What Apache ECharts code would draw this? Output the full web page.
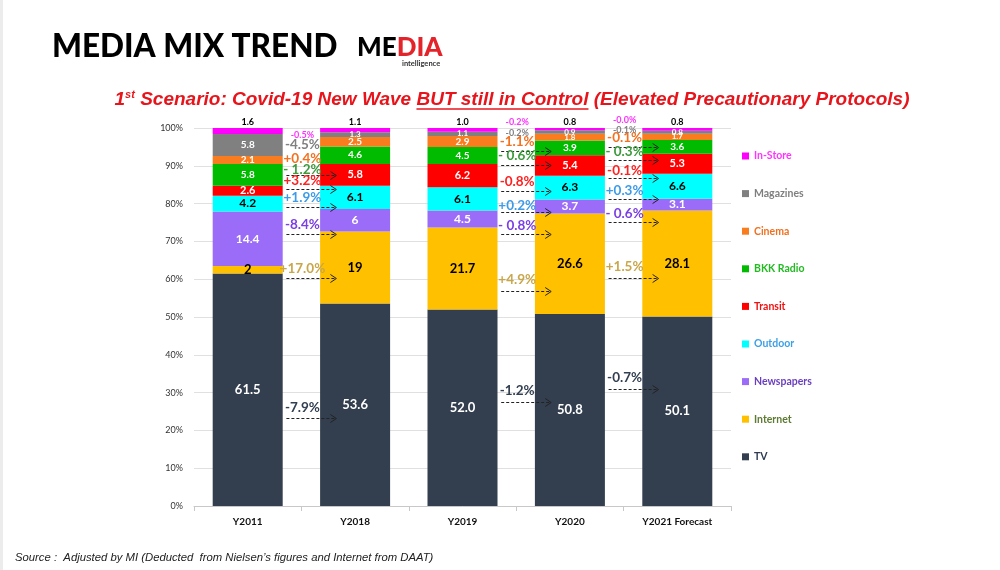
<!DOCTYPE html>
<html>
<head>
<meta charset="utf-8">
<title>Media Mix Trend</title>
<script src="https://cdn.jsdelivr.net/npm/echarts@6/dist/echarts.min.js"></script>
<style>
  html, body { margin: 0; padding: 0; background: #fff; }
  #chart { width: 1000px; height: 570px; }
</style>
</head>
<body>
<div id="chart"></div>
<script>
const categories = ['Y2011', 'Y2018', 'Y2019', 'Y2020', 'Y2021 Forecast']
const mediaNames = ['TV', 'Internet', 'Newspapers', 'Outdoor', 'Transit', 'BKK Radio', 'Cinema', 'Magazines', 'In-Store']

// share of spend (%), per media
const tv = [61.5, 53.6, 52.0, 50.8, 50.1]
const internet = [2, 19, 21.7, 26.6, 28.1]
const newspapers = [14.4, 6, 4.5, 3.7, 3.1]
const outdoor = [4.2, 6.1, 6.1, 6.3, 6.6]
const transit = [2.6, 5.8, 6.2, 5.4, 5.3]
const bkkRadio = [5.8, 4.6, 4.5, 3.9, 3.6]
const cinema = [2.1, 2.5, 2.9, 1.8, 1.7]
const magazines = [5.8, 1.3, 1.1, 0.9, 0.8]
const inStore = [1.6, 1.1, 1.0, 0.8, 0.8]

// change labels (TV .. In-Store) shown in the gap after bar index in changeGaps
const changeGaps = [0, 2, 3]
const changes2018 = ['-7.9%', '+17.0%', '-8.4%', '+1.9%', '+3.2%', '- 1.2%', '+0.4%', '-4.5%', '-0.5%']
const changes2020 = ['-1.2%', '+4.9%', '- 0.8%', '+0.2%', '-0.8%', '- 0.6%', '-1.1%', '-0.2%', '-0.2%']
const changes2021 = ['-0.7%', '+1.5%', '- 0.6%', '+0.3%', '-0.1%', '- 0.3%', '-0.1%', '-0.1%', '-0.0%']

// layout of the annotations, in % on the value axis
const changeTextAt = [
  [26.0, 62.7, 74.5, 81.7, 86.1, 89.0, 91.9, 95.6, 98.0],
  [30.4, 59.8, 74.1, 79.5, 85.7, 92.7, 96.3, 98.7, 101.6],
  [34.0, 63.3, 77.3, 83.3, 88.8, 93.7, 97.4, 99.5, 102.1]
]
const arrowAt = [
  [23.3, 60.3, 72.0, 79.1, 83.9, 87.6],
  [27.4, 57.0, 71.9, 77.7, 83.4, 90.3, 94.0],
  [30.9, 60.4, 75.2, 81.2, 86.8, 91.6, 94.9]
]

const seriesValues = [tv, internet, newspapers, outdoor, transit, bkkRadio, cinema, magazines, inStore]
const changeTexts = [changes2018, changes2020, changes2021]

const barColors = ['#333f4f', '#ffc000', '#9b6cf7', '#00ffff', '#ff0000', '#00bb00', '#f97c1f', '#808080', '#ff00ff']
const barLabelColors = ['#fff', '#000', '#fff', '#000', '#fff', '#fff', '#fff', '#fff', '#000']
const barLabelSizes = [13, 13, 12, 12, 11, 10, 10, 10, 9]
const changeColors = ['#333f50', '#c9a64a', '#7b3fe4', '#3d9be9', '#ff2020', '#3c9a3c', '#f5701f', '#808080', '#ff33ff']
const legendColors = ['#2f3b52', '#5d7a32', '#6a3fbf', '#3da0e6', '#ee1111', '#22bb22', '#f07020', '#7f7f7f', '#ff33ff']

const FONT = 'Lato'

const ctx = document.createElement('canvas').getContext('2d')
function textWidth(text, font) {
  ctx.font = font
  return ctx.measureText(text).width
}

const barSeries = mediaNames.map((name, i) => ({
  name,
  type: 'bar',
  stack: 'share',
  barWidth: 70,
  itemStyle: { color: barColors[i] },
  label: {
    show: true,
    position: i === 8 ? 'top' : 'inside',
    distance: 1,
    color: barLabelColors[i],
    fontFamily: FONT,
    fontWeight: 'bold',
    fontSize: barLabelSizes[i],
    formatter: p => (i === 0 || i === 8 ? p.value.toFixed(1) : String(p.value))
  },
  data: seriesValues[i].map(v => ({
    value: v,
    label: { fontSize: v < 2 && i > 4 && i < 8 ? 8 : barLabelSizes[i] }
  })),
  emphasis: { disabled: true }
}))

const changeLabelData = []
changeGaps.forEach((gap, g) => {
  changeTexts[g].forEach((txt, m) => {
    changeLabelData.push({ value: [gap, changeTextAt[g][m]], text: txt, media: m, group: g })
  })
})

const arrowData = []
changeGaps.forEach((gap, g) => {
  arrowAt[g].forEach(y => arrowData.push([gap, y]))
})

function gapMid(api, gap, y) {
  const a = api.coord([gap, y])
  const b = api.coord([gap + 1, y])
  return [(a[0] + b[0]) / 2, a[1]]
}

const changeLabelSeries = {
  type: 'custom',
  name: 'changes',
  z: 5,
  silent: true,
  data: changeLabelData,
  renderItem: (params, api) => {
    const item = changeLabelData[params.dataIndex]
    const pos = gapMid(api, api.value(0), api.value(1))
    const small = item.media === 8 || (item.media === 7 && item.group > 0)
    return {
      type: 'text',
      x: pos[0] + 1,
      y: pos[1],
      style: {
        text: item.text,
        fill: changeColors[item.media],
        font: `bold ${small ? 9 : 13.5}px ${FONT}`,
        textAlign: 'center',
        textVerticalAlign: 'middle'
      }
    }
  }
}

const arrowSeries = {
  type: 'custom',
  name: 'arrows',
  z: 5,
  silent: true,
  data: arrowData,
  renderItem: (params, api) => {
    const pos = gapMid(api, api.value(0), api.value(1))
    const x0 = pos[0] - 15
    const x1 = pos[0] + 35
    const y = Math.round(pos[1]) + 0.5
    return {
      type: 'group',
      children: [
        { type: 'line', shape: { x1: x0, y1: y, x2: x1, y2: y }, style: { stroke: '#222', lineWidth: 1, lineDash: [3, 2] } },
        { type: 'polyline', shape: { points: [[x1 - 6, y - 4], [x1, y], [x1 - 6, y + 4]] }, style: { stroke: '#222', lineWidth: 1, fill: null } }
      ]
    }
  }
}

// subtitle pieces, laid out from measured widths
const subFont = 'italic bold 19px "Liberation Sans Narrow", "Liberation Sans", sans-serif'
const supFont = 'italic bold 11px "Liberation Sans Narrow", "Liberation Sans", sans-serif'
const subParts = ['1', 'st', ' Scenario: Covid-19 New Wave ', 'BUT still in Control', ' (Elevated Precautionary Protocols)']
const subWidths = subParts.map((t, k) => textWidth(t, k === 1 ? supFont : subFont))
const subTotal = subWidths.reduce((s, w) => s + w, 0)
let subX = 512 - subTotal / 2
const subY = 100
const subtitleEls = []
subParts.forEach((t, k) => {
  subtitleEls.push({
    type: 'text',
    x: subX,
    y: k === 1 ? subY - 5 : subY,
    style: { text: t, font: k === 1 ? supFont : subFont, fill: '#e8141b', textAlign: 'left', textVerticalAlign: 'middle' }
  })
  if (k === 3) {
    subtitleEls.push({
      type: 'line',
      shape: { x1: subX, y1: subY + 9, x2: subX + subWidths[k], y2: subY + 9 },
      style: { stroke: '#e8141b', lineWidth: 1.5 }
    })
  }
  subX += subWidths[k]
})

const titleFont = `900 31.5px ${FONT}`
const logoFont = `900 26px ${FONT}`
const logoX = 357

const option = {
  backgroundColor: '#fff',
  animation: false,
  grid: { left: 194, top: 128, right: 269, bottom: 64 },
  legend: {
    orient: 'vertical',
    left: 737,
    top: 145,
    icon: 'rect',
    itemWidth: 7,
    itemHeight: 7,
    itemGap: 25.6,
    selectedMode: false,
    textStyle: { fontFamily: FONT, fontWeight: 'bold', fontSize: 10.5, lineHeight: 12 },
    data: mediaNames.map((n, i) => ({ name: n, textStyle: { color: legendColors[i] } })).reverse()
  },
  xAxis: {
    type: 'category',
    data: categories,
    axisLine: { lineStyle: { color: '#c8c8c8' } },
    axisTick: { show: true, length: 5, lineStyle: { color: '#c8c8c8' } },
    axisLabel: { color: '#111', fontFamily: FONT, fontWeight: 'bold', fontSize: 10, margin: 11 }
  },
  yAxis: {
    type: 'value',
    min: 0,
    max: 100,
    interval: 10,
    axisLine: { show: false },
    axisTick: { show: false },
    axisLabel: { formatter: '{value}%', color: '#333', fontFamily: FONT, fontSize: 9, margin: 11 },
    splitLine: { lineStyle: { color: '#e0e0e0' } }
  },
  graphic: [
    { type: 'rect', x: 0, y: 0, shape: { width: 3, height: 570 }, style: { fill: '#ececec' } },
    { type: 'text', x: 52, y: 47, style: { text: 'MEDIA MIX TREND', font: titleFont, fill: '#000', textVerticalAlign: 'middle' } },
    { type: 'text', x: logoX, y: 48, style: { text: 'ME', font: logoFont, fill: '#000', textVerticalAlign: 'middle' } },
    { type: 'text', x: logoX + textWidth('ME', logoFont), y: 48, style: { text: 'DIA', font: logoFont, fill: '#e3242b', textVerticalAlign: 'middle' } },
    { type: 'text', x: 402, y: 64, style: { text: 'intelligence', font: `bold 7.5px ${FONT}`, fill: '#333', textVerticalAlign: 'middle' } },
    ...subtitleEls,
    {
      type: 'text',
      x: 15,
      y: 558,
      style: {
        text: 'Source :  Adjusted by MI (Deducted  from Nielsen\u2019s figures and Internet from DAAT)',
        font: 'italic 11.3px "Liberation Sans", sans-serif',
        fill: '#222',
        textVerticalAlign: 'middle'
      }
    }
  ],
  series: [...barSeries, arrowSeries, changeLabelSeries]
}

const chart = echarts.init(document.getElementById('chart'))
chart.setOption(option)
</script>
</body>
</html>
